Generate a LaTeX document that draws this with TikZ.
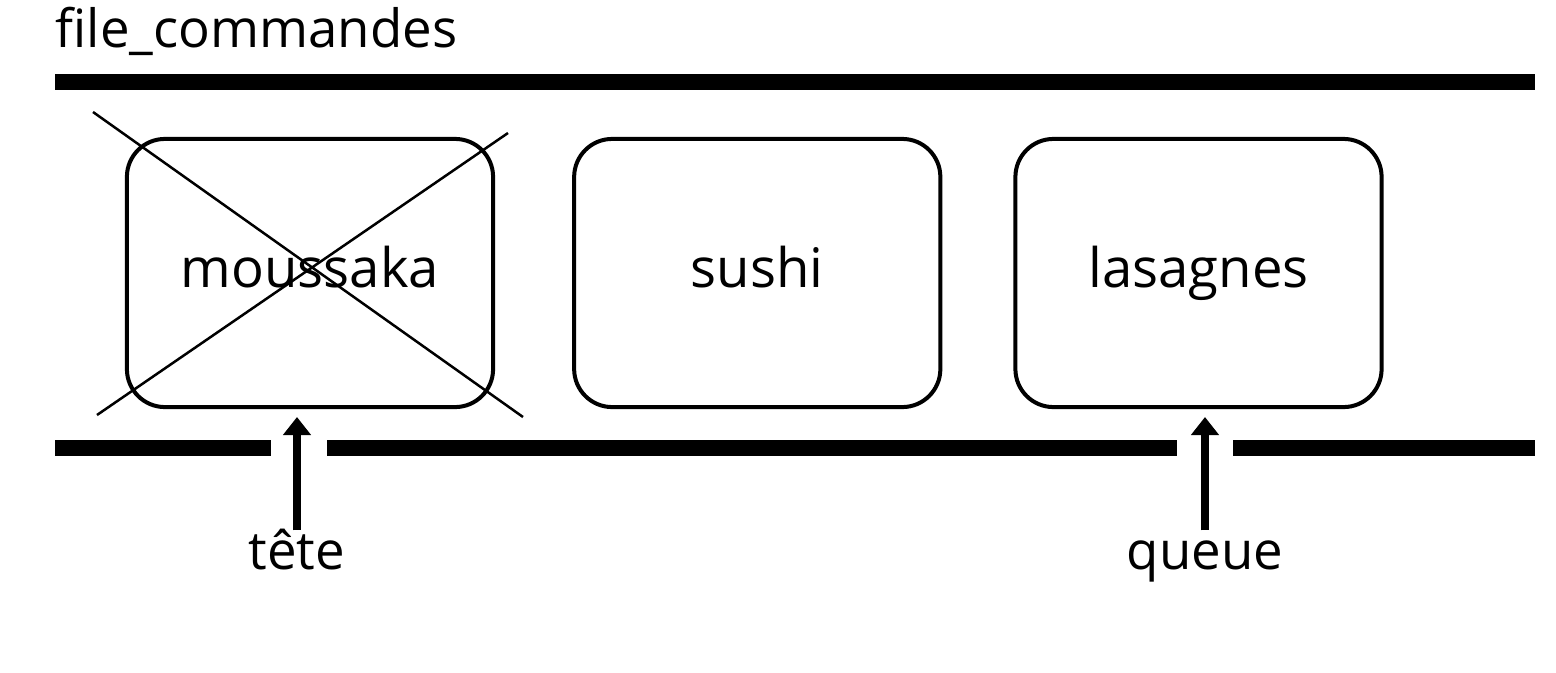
\documentclass[tikz,border=0pt]{standalone}
\usepackage{fontspec}
\setmainfont{Open Sans}
\usetikzlibrary{arrows.meta,positioning}

\begin{document}
\begin{tikzpicture}[x=0.01cm,y=-0.01cm,font=\fontsize{15pt}{18pt}\selectfont,
   plat/.style={draw,line width=0.04cm,rounded corners=0.38cm,minimum width=3.66cm,
               minimum height=2.68cm,text height=0.9em,text depth=0.05em,
               font=\fontsize{15.5pt}{18pt}\selectfont},
   bar/.style={line width=0.16cm},
   ptr/.style={-{Triangle[length=0.18cm,width=0.27cm]},line width=0.08cm},
   tag/.style={anchor=base,text height=0.75em,text depth=0.25em,inner sep=0.115cm}]
  \useasboundingbox (0,0) rectangle (1556,672);
  \node[anchor=base west,inner sep=0pt] (titre) at (55,47) {file\_commandes};
  % les bords de la file
  \draw[bar] (55,82) -- (1535,82);
  \draw[bar] (55,448) -- (271,448) (327,448) -- (1177,448) (1233,448) -- (1535,448);
  \node[plat] (moussaka) at (310,273) {moussaka};
  \node[plat,right=0.77cm of moussaka] (sushi) {sushi};
  \node[plat,right=0.71cm of sushi] (lasagnes) {lasagnes};
  % commande deja servie
  \draw[line width=0.025cm] (93,112) -- (523,417) (97,415) -- (508,133);
  \node[tag] (tete) at (297,569) {tête};
  \node[tag] (queue) at (1205,569) {queue};
  \coordinate (teteTip) at (297,417);
  \coordinate (queueTip) at (1205,417);
  \draw[ptr] (tete.north) -- (teteTip);
  \draw[ptr] (queue.north) -- (queueTip);
\end{tikzpicture}
\end{document}
